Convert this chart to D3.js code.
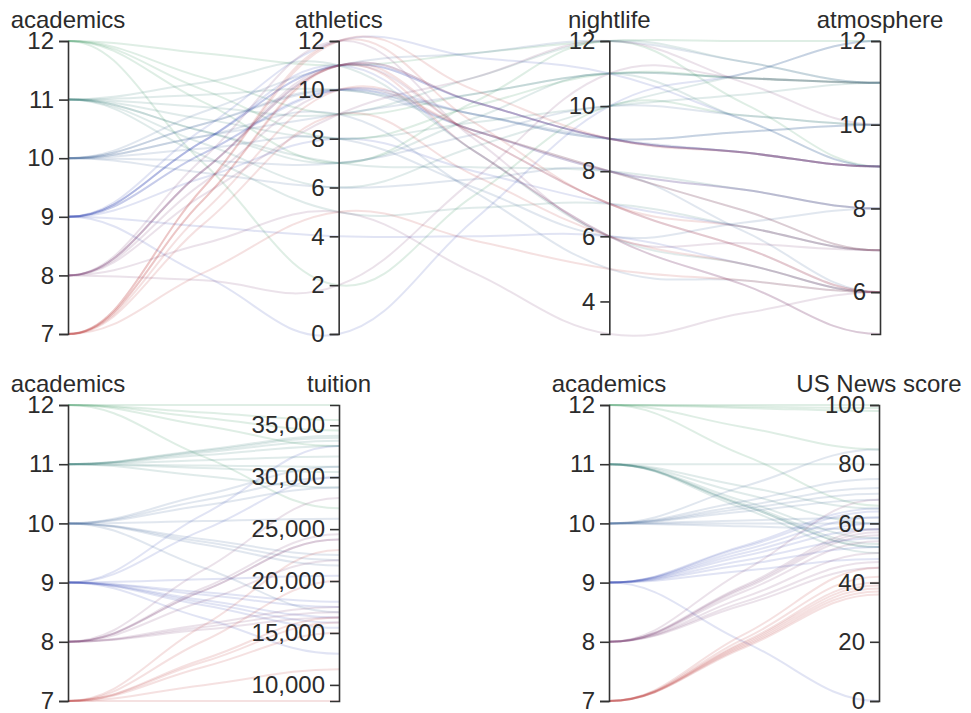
<!DOCTYPE html>
<html>
<head>
<meta charset="utf-8">
<script src="https://cdn.jsdelivr.net/npm/d3@7"></script>
<style>
  html, body { margin: 0; padding: 0; background: #fff; }
  svg { display: block; }
  .axis text { font: 24px "Liberation Sans", Arial, sans-serif; fill: #2b2b2b; }
  .axis path, .axis line { stroke: #333; stroke-width: 1.6; }
  .title { font: 24px "Liberation Sans", Arial, sans-serif; fill: #2b2b2b; text-anchor: middle; }
  .college { fill: none; stroke-width: 2; stroke-opacity: 0.14; }
</style>
</head>
<body>
<svg id="chart" width="971" height="713"></svg>
<script>
// College ratings, one entry per school (same order in every column).
const academics  = [12, 12, 12, 12, 12,
                    11, 11, 11, 11, 11, 11, 11, 11,
                    10, 10, 10, 10, 10, 10, 10, 10,
                    9, 9, 9, 9, 9, 9, 9, 9, 9,
                    8, 8, 8, 8, 8, 8, 8, 8,
                    7, 7, 7, 7, 7, 7, 7];
const athletics  = [11, 9, 7, 2, 8,
                    7, 8, 9, 10, 7, 6, 11, 5,
                    10, 9, 8, 10, 11, 7, 9, 6,
                    11, 10, 0, 11, 10, 12, 8, 11, 4,
                    11, 11, 12, 10, 11, 5, 9, 2,
                    12, 11, 12, 10, 9, 5, 11];
const nightlife  = [12, 11, 12, 10, 11,
                    11, 10, 12, 9, 8, 10, 6, 7,
                    9, 11, 6, 8, 12, 10, 5, 8,
                    9, 8, 10, 6, 9, 11, 7, 9, 6,
                    9, 9, 6, 8, 7, 3, 12, 11,
                    9, 6, 7, 8, 6, 5, 7];
const atmosphere = [12, 11, 9, 10, 11,
                    9, 11, 11, 10, 8, 12, 6, 7,
                    9, 11, 8, 7, 11, 10, 6, 6,
                    9, 8, 12, 5, 10, 9, 7, 9, 6,
                    9, 9, 7, 8, 6, 6, 10, 11,
                    9, 5, 7, 7, 6, 6, 6];
const tuition    = [36950, 34500, 33000, 27000, 35500,
                    34000, 33500, 33800, 31000, 30500, 29000, 33000, 32000,
                    22000, 31000, 29000, 22500, 26000, 30000, 21500, 17000,
                    16500, 17500, 16000, 33000, 18000, 30000, 15500, 13000, 20500,
                    24000, 24500, 22000, 17500, 24000, 16500, 28000, 17000,
                    8450, 11500, 16000, 20000, 23000, 15000, 16500];
const usNews     = [100, 98, 85, 66, 99,
                    80, 52, 53, 60, 52, 55, 50, 65,
                    70, 75, 85, 58, 60, 68, 62, 72,
                    55, 60, 0, 65, 52, 58, 64, 48, 62,
                    57, 56, 50, 45, 58, 54, 68, 47,
                    38, 36, 40, 45, 37, 42, 39];

const columns = { academics, athletics, nightlife, atmosphere, tuition, usNews };
const labels  = { academics: "academics", athletics: "athletics", nightlife: "nightlife",
                  atmosphere: "atmosphere", tuition: "tuition", usNews: "US News score" };
const tickCounts = { academics: 4, athletics: 4, nightlife: 4, atmosphere: 4, tuition: 5, usNews: 4 };

const rows = academics.map((_, i) => {
  const r = {};
  for (const k in columns) r[k] = columns[k][i];
  return r;
});

// Value range per dimension, taken from the data.
const extents = {};
for (const k in columns) extents[k] = d3.extent(columns[k]);

const color = d3.scaleLinear()
  .domain([7, 9, 12])
  .range(["#b82a2a", "#2c3fae", "#1f8a45"]);

// Smoothed polyline through the axis points: virtual centroids halfway
// between axes, cubic segments with tangents from neighbouring centroids,
// flat tangents at the first and last axis.
const smoothness = 0.2;
function smoothPath(pts) {
  const c = [];
  pts.forEach((p, i) => {
    c.push(p);
    if (i < pts.length - 1) {
      const q = pts[i + 1];
      c.push([(p[0] + q[0]) / 2, (p[1] + q[1]) / 2]);
    }
  });
  const a = smoothness, n = c.length;
  const cps = [c[0], [c[0][0] + a * 2 * (c[1][0] - c[0][0]), c[0][1]]];
  for (let k = 1; k < n - 1; k++) {
    const mid = c[k], left = c[k - 1], right = c[k + 1];
    const dx = left[0] - right[0], dy = left[1] - right[1];
    cps.push([mid[0] + a * dx, mid[1] + a * dy], mid, [mid[0] - a * dx, mid[1] - a * dy]);
  }
  cps.push([c[n - 1][0] + a * 2 * (c[n - 2][0] - c[n - 1][0]), c[n - 1][1]], c[n - 1]);
  const path = d3.path();
  path.moveTo(cps[0][0], cps[0][1]);
  for (let i = 1; i < cps.length; i += 3) {
    path.bezierCurveTo(cps[i][0], cps[i][1], cps[i + 1][0], cps[i + 1][1], cps[i + 2][0], cps[i + 2][1]);
  }
  return path.toString();
}

const svg = d3.select("#chart");

// Each panel: a set of dimensions, horizontal span and vertical span.
const panels = [
  { dims: ["academics", "athletics", "nightlife", "atmosphere"], x0: 68,  x1: 880, top: 41,  bottom: 334 },
  { dims: ["academics", "tuition"],                              x0: 68,  x1: 339, top: 405, bottom: 701 },
  { dims: ["academics", "usNews"],                               x0: 609, x1: 879, top: 405, bottom: 701 }
];

panels.forEach(p => {
  const x = d3.scalePoint().domain(p.dims).range([p.x0, p.x1]);
  const y = {};
  p.dims.forEach(d => {
    y[d] = d3.scaleLinear().domain(extents[d]).range([p.bottom, p.top]);
  });

  const g = svg.append("g");

  g.append("g")
    .selectAll("path")
    .data(rows)
    .join("path")
      .attr("class", "college")
      .attr("stroke", r => color(r.academics))
      .attr("d", r => smoothPath(p.dims.map(d => [x(d), y[d](r[d])])));

  const axes = g.selectAll(".dim")
    .data(p.dims)
    .join("g")
      .attr("class", "dim")
      .attr("transform", d => `translate(${x(d)},0)`);

  axes.append("g")
      .attr("class", "axis")
      .each(function(d) {
        const ax = d3.axisLeft(y[d]).ticks(tickCounts[d]).tickSize(9).tickPadding(5);
        if (d === "tuition") ax.tickFormat(d3.format(","));
        d3.select(this).call(ax);
      });

  axes.append("text")
      .attr("class", "title")
      .attr("y", p.top - 13)
      .text(d => labels[d]);
});
</script>
</body>
</html>
